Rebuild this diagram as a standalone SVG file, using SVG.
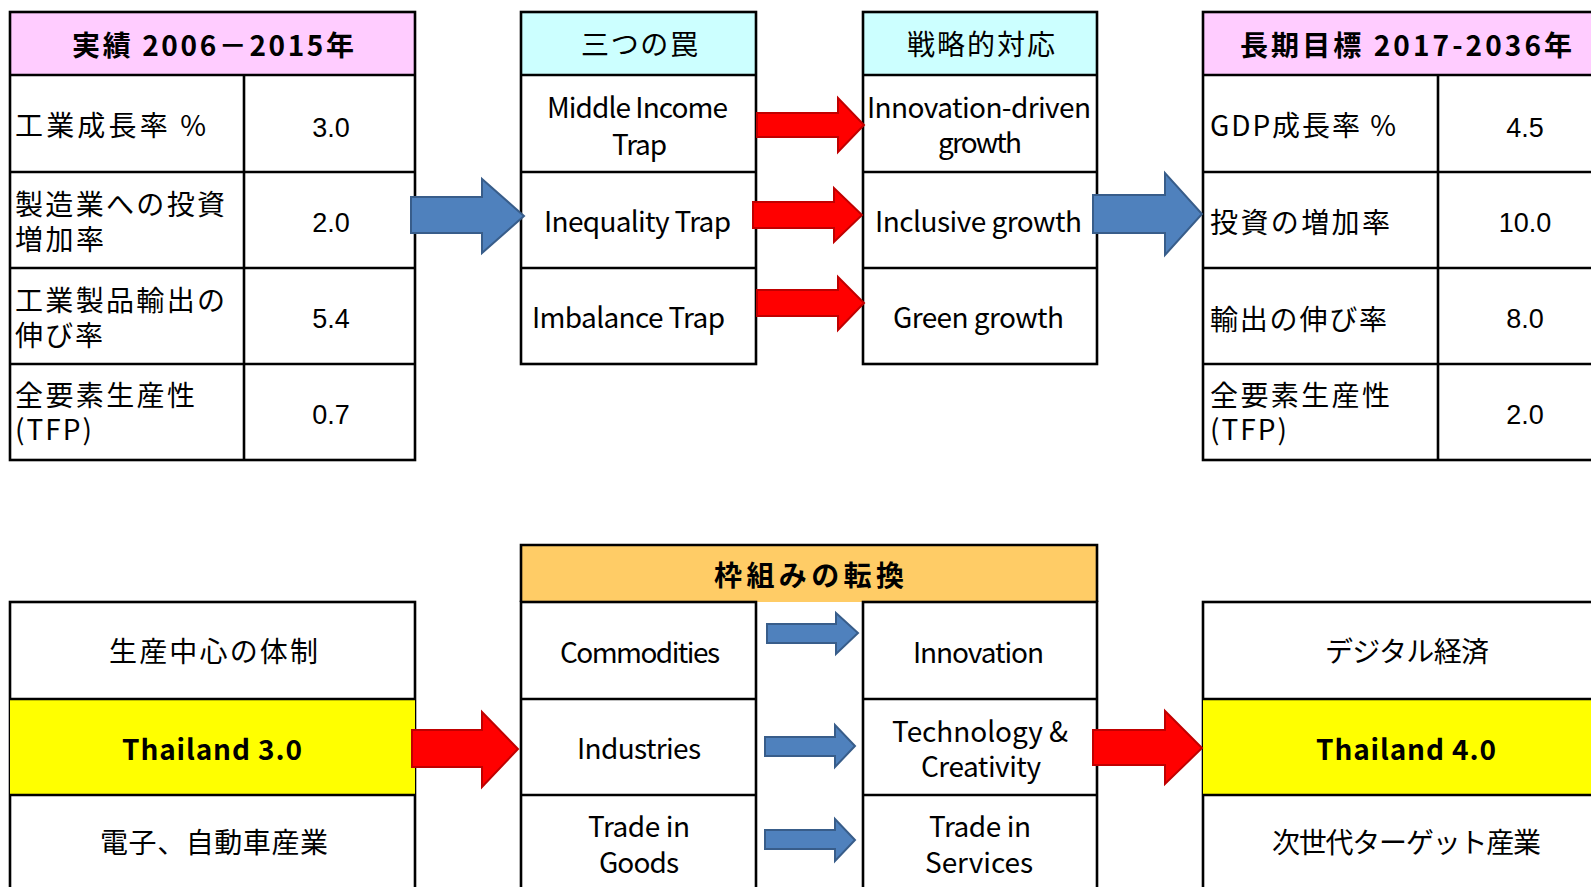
<svg xmlns="http://www.w3.org/2000/svg" width="1591" height="887" viewBox="0 0 1591 887">
<style>
.cell{fill:#FFFFFF;stroke:#000;stroke-width:2.6}
.ln{stroke:#000;stroke-width:2.6;fill:none}
.pink{fill:#FFCCFF}
.cyan{fill:#CCFFFF}
.orange{fill:#FFCC66}
.yellow{fill:#FFFF00}
.jp{font-family:"Noto Sans CJK JP","Noto Sans",sans-serif;font-size:28px;fill:#000}
.en{font-family:"Noto Sans CJK JP","Noto Sans",sans-serif;font-size:28px;fill:#000}
.b{font-weight:bold}
.num{font-family:"Liberation Sans",Arial,sans-serif;font-size:27px;fill:#000;text-anchor:middle}
.blue{fill:#4F81BD;stroke:#385D8A;stroke-width:2}
.red{fill:#FF0000;stroke:#C00000;stroke-width:2}
</style>
<rect x="0" y="0" width="1591" height="887" fill="#FFFFFF"/>

<g id="table-results">
<rect x="10" y="12" width="405" height="63" class="pink"/>
<rect x="10" y="12" width="405" height="448" class="ln"/>
<path d="M10 75H415M10 172H415M10 268H415M10 364H415M244 75V460" class="ln"/>
<text x="72" y="56" class="jp b" textLength="282" lengthAdjust="spacing">実績 2006－2015年</text>
<text x="15" y="136" class="jp" textLength="191" lengthAdjust="spacing">工業成長率 %</text>
<text x="331" y="137" class="num">3.0</text>
<text class="jp"><tspan x="15" y="215" textLength="210" lengthAdjust="spacing">製造業への投資</tspan><tspan x="15" y="250" textLength="89" lengthAdjust="spacing">増加率</tspan></text>
<text x="331" y="232" class="num">2.0</text>
<text class="jp"><tspan x="15" y="311" textLength="210" lengthAdjust="spacing">工業製品輸出の</tspan><tspan x="15" y="346" textLength="88" lengthAdjust="spacing">伸び率</tspan></text>
<text x="331" y="328" class="num">5.4</text>
<text class="jp"><tspan x="15" y="406" textLength="180" lengthAdjust="spacing">全要素生産性</tspan><tspan x="15" y="440" textLength="77" lengthAdjust="spacing">(TFP)</tspan></text>
<text x="331" y="424" class="num">0.7</text>
</g>

<g id="table-traps">
<rect x="521" y="12" width="235" height="63" class="cyan"/>
<rect x="521" y="12" width="235" height="352" class="ln"/>
<path d="M521 75H756M521 172H756M521 268H756" class="ln"/>
<text x="581" y="55" class="jp" textLength="117" lengthAdjust="spacing">三つの罠</text>
<text class="en"><tspan x="547" y="118" textLength="181" lengthAdjust="spacing">Middle Income</tspan><tspan x="612" y="155" textLength="55" lengthAdjust="spacing">Trap</tspan></text>
<text x="544" y="232" class="en" textLength="187" lengthAdjust="spacing">Inequality Trap</text>
<text x="532" y="328" class="en" textLength="193" lengthAdjust="spacing">Imbalance Trap</text>
</g>

<g id="table-strategy">
<rect x="863" y="12" width="234" height="63" class="cyan"/>
<rect x="863" y="12" width="234" height="352" class="ln"/>
<path d="M863 75H1097M863 172H1097M863 268H1097" class="ln"/>
<text x="907" y="55" class="jp" textLength="148" lengthAdjust="spacing">戦略的対応</text>
<text class="en"><tspan x="867" y="118" textLength="224" lengthAdjust="spacing">Innovation-driven</tspan><tspan x="938" y="153" textLength="84" lengthAdjust="spacing">growth</tspan></text>
<text x="875" y="232" class="en" textLength="207" lengthAdjust="spacing">Inclusive growth</text>
<text x="893" y="328" class="en" textLength="171" lengthAdjust="spacing">Green growth</text>
</g>

<g id="table-targets">
<rect x="1203" y="12" width="406" height="63" class="pink"/>
<rect x="1203" y="12" width="406" height="448" class="ln"/>
<path d="M1203 75H1609M1203 172H1609M1203 268H1609M1203 364H1609M1438 75V460" class="ln"/>
<text x="1240" y="56" class="jp b" textLength="332" lengthAdjust="spacing">長期目標 2017-2036年</text>
<text x="1210" y="136" class="jp" textLength="186" lengthAdjust="spacing">GDP成長率 %</text>
<text x="1525" y="137" class="num">4.5</text>
<text x="1210" y="233" class="jp" textLength="180" lengthAdjust="spacing">投資の増加率</text>
<text x="1525" y="232" class="num">10.0</text>
<text x="1210" y="330" class="jp" textLength="177" lengthAdjust="spacing">輸出の伸び率</text>
<text x="1525" y="328" class="num">8.0</text>
<text class="jp"><tspan x="1210" y="406" textLength="180" lengthAdjust="spacing">全要素生産性</tspan><tspan x="1210" y="440" textLength="77" lengthAdjust="spacing">(TFP)</tspan></text>
<text x="1525" y="424" class="num">2.0</text>
</g>

<g id="table-thailand3">
<rect x="10" y="602" width="405" height="320" class="cell"/>
<rect x="10" y="699" width="405" height="96" class="yellow"/>
<path d="M10 699H415M10 795H415" class="ln"/>
<text x="109" y="662" class="jp" textLength="209" lengthAdjust="spacing">生産中心の体制</text>
<text x="122" y="760" class="en b" textLength="180" lengthAdjust="spacing">Thailand 3.0</text>
<text x="100" y="853" class="jp" textLength="228" lengthAdjust="spacing">電子、自動車産業</text>
</g>

<g id="table-shift">
<rect x="521" y="545" width="576" height="57" class="orange"/>
<path d="M521 602V545H1097V602" class="ln"/>
<rect x="521" y="602" width="235" height="320" class="cell"/>
<path d="M521 699H756M521 795H756" class="ln"/>
<rect x="863" y="602" width="234" height="320" class="cell"/>
<path d="M863 699H1097M863 795H1097" class="ln"/>
<text x="714" y="586" class="jp b" textLength="190" lengthAdjust="spacing">枠組みの転換</text>
<text x="560" y="663" class="en" textLength="160" lengthAdjust="spacing">Commodities</text>
<text x="577" y="759" class="en" textLength="124" lengthAdjust="spacing">Industries</text>
<text class="en"><tspan x="588" y="837" textLength="102" lengthAdjust="spacing">Trade in</tspan><tspan x="599" y="873" textLength="80" lengthAdjust="spacing">Goods</tspan></text>
<text x="913" y="663" class="en" textLength="131" lengthAdjust="spacing">Innovation</text>
<text class="en"><tspan x="892" y="742" textLength="176" lengthAdjust="spacing">Technology &amp;</tspan><tspan x="921" y="777" textLength="120" lengthAdjust="spacing">Creativity</tspan></text>
<text class="en"><tspan x="929" y="837" textLength="102" lengthAdjust="spacing">Trade in</tspan><tspan x="925" y="873" textLength="108" lengthAdjust="spacing">Services</tspan></text>
</g>

<g id="table-thailand4">
<rect x="1203" y="602" width="406" height="320" class="cell"/>
<rect x="1203" y="699" width="406" height="96" class="yellow"/>
<path d="M1203 699H1609M1203 795H1609" class="ln"/>
<text x="1325" y="662" class="jp" textLength="164" lengthAdjust="spacing">デジタル経済</text>
<text x="1316" y="760" class="en b" textLength="180" lengthAdjust="spacing">Thailand 4.0</text>
<text x="1272" y="853" class="jp" textLength="269" lengthAdjust="spacing">次世代ターゲット産業</text>
</g>

<g id="connectors">
<polygon class="blue" points="411,197 482,197 482,179 524,216 482,253 482,233 411,233"/>
<polygon class="red" points="757,113 838,113 838,98 864,125 838,152 838,137 757,137"/>
<polygon class="red" points="753,202 834,202 834,188 862,215 834,242 834,228 753,228"/>
<polygon class="red" points="757,290 838,290 838,277 864,303 838,330 838,316 757,316"/>
<polygon class="blue" points="1093,195 1165,195 1165,173 1202,214 1165,255 1165,233 1093,233"/>
<polygon class="red" points="412,730 482,730 482,712 518,749 482,787 482,767 412,767"/>
<polygon class="red" points="1093,730 1165,730 1165,711 1202,748 1165,784 1165,765 1093,765"/>
<polygon class="blue" points="767,624 836,624 836,613 858,633 836,654 836,643 767,643"/>
<polygon class="blue" points="765,737 835,737 835,725 855,746 835,767 835,756 765,756"/>
<polygon class="blue" points="765,830 835,830 835,819 855,840 835,861 835,849 765,849"/>
</g>
</svg>
